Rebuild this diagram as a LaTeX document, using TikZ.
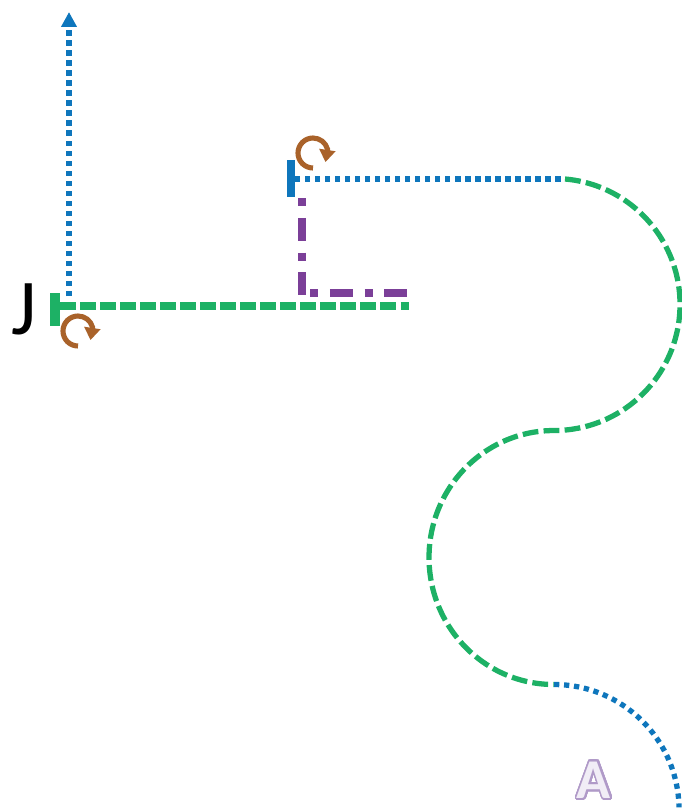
\documentclass[tikz,border=0pt]{standalone}
\usepackage{fontspec}
\usepackage[copies]{contour}
\usepackage{tikz}
\usetikzlibrary{arrows.meta}
\setmainfont{Carlito}
\definecolor{signalblue}{HTML}{0E76BC}
\definecolor{signalgreen}{HTML}{1DB165}
\definecolor{signalpurple}{HTML}{7B3F98}
\definecolor{turnbrown}{HTML}{A9622A}
\definecolor{labelpurple}{HTML}{B09AC8}
\definecolor{labelfill}{HTML}{F1EDF6}
\contournumber{32}
\contourlength{1.1pt}

\begin{document}
\begin{tikzpicture}[x=0.02cm, y=-0.02cm,
    bluedots/.style={draw=signalblue, line width=3pt, dash pattern=on 3pt off 2.7pt},
    greendash/.style={draw=signalgreen, line width=4.4pt, dash pattern=on 9pt off 2.4pt},
    greencurve/.style={draw=signalgreen, line width=3pt, dash pattern=on 9pt off 3pt},
    purpledash/.style={draw=signalpurple, line width=4.4pt, dash pattern=on 4.5pt off 6.8pt on 13pt off 6.8pt},
    turnarrow/.style={draw=turnbrown, line width=2.9pt, -{Triangle[length=7pt,width=9pt,fill=turnbrown]}}]
    \useasboundingbox (0, 0) rectangle (682, 808);
    % left end
    \coordinate (jtop) at (55, 293);
    \coordinate (jbot) at (55, 326);
    \coordinate (jstart) at (60, 306);
    \coordinate (jend) at (409, 306);
    \coordinate (upstart) at (69, 296);
    \coordinate (upend) at (69, 12);
    \draw[signalgreen, line width=5.6pt] (jtop) -- (jbot);
    \draw[greendash] (jstart) -- (jend);
    \draw[bluedots, -{Triangle[length=8.5pt,width=8.5pt]}] (upstart) -- (upend);
    \node[font=\fontsize{45}{45}\selectfont, inner sep=0pt] (jlabel) at (24, 309) {J};
    % upper end
    \coordinate (ktop) at (291, 160);
    \coordinate (kbot) at (291, 197);
    \coordinate (kstart) at (295, 179);
    \coordinate (kend) at (565, 179);
    \draw[signalblue, line width=4.4pt] (ktop) -- (kbot);
    \draw[bluedots] (kstart) -- (kend);
    % purple corner
    \coordinate (pstart) at (302, 198);
    \coordinate (pcorner) at (302, 295);
    \coordinate (pturn) at (310, 293);
    \coordinate (pend) at (409, 293);
    \draw[purpledash] (pstart) -- (pcorner);
    \draw[purpledash] (pturn) -- (pend);
    % long curve
    \draw[greencurve] (kend) arc[start angle=-85, end angle=90, radius=126]
        coordinate (midpt) arc[start angle=-90, end angle=-270, x radius=125, y radius=127]
        coordinate (lowpt);
    \draw[bluedots] (lowpt) arc[start angle=-90, end angle=-1, radius=125];
    \node[font=\fontsize{32}{32}\selectfont\bfseries, inner sep=0pt, text=labelfill] (alabel) at (594, 781) {\contour{labelpurple}{A}};
    % rotation marks
    \draw[turnarrow] (313, 168) arc[start angle=90, end angle=345, radius=15] -- ++(-2, 13);
    \draw[turnarrow] (78, 346) arc[start angle=90, end angle=345, radius=15] -- ++(-2, 13);
\end{tikzpicture}
\end{document}
